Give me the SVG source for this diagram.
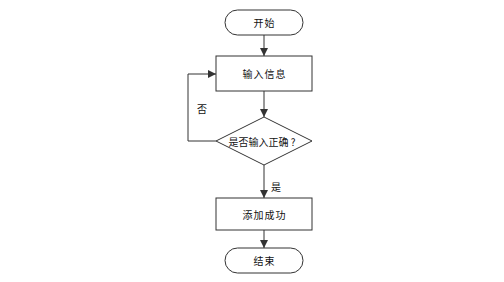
<svg xmlns="http://www.w3.org/2000/svg" width="504" height="282" viewBox="0 0 504 282">
<style>
.shape{fill:#fff;stroke:#333;stroke-width:1}
.line{fill:none;stroke:#333;stroke-width:1}
text{font-family:"Noto Sans CJK SC","Liberation Sans",sans-serif;font-size:10px;fill:#111;text-anchor:middle;dominant-baseline:central}
.sp{letter-spacing:1px}
</style>
<defs>
<marker id="arr" viewBox="0 0 10 10" refX="10" refY="5" markerWidth="8" markerHeight="8" markerUnits="userSpaceOnUse" orient="auto">
<path d="M0,0 L10,5 L0,10 z" fill="#333"/>
</marker>
</defs>
<rect width="504" height="282" fill="#fff"/>
<g id="connectors">
<line class="line" x1="264" y1="35" x2="264" y2="56" marker-end="url(#arr)"/>
<line class="line" x1="264" y1="91" x2="264" y2="117" marker-end="url(#arr)"/>
<polyline class="line" points="216,141 188,141 188,74 216,74" marker-end="url(#arr)"/>
<line class="line" x1="264" y1="165" x2="264" y2="198" marker-end="url(#arr)"/>
<line class="line" x1="264" y1="230" x2="264" y2="248" marker-end="url(#arr)"/>
<text x="202" y="108">否</text>
<text x="276" y="186">是</text>
</g>
<g id="start">
<rect class="shape" x="225" y="10" width="78" height="25" rx="12.5"/>
<text class="sp" x="264.5" y="22.5">开始</text>
</g>
<g id="input">
<rect class="shape" x="216" y="56" width="96" height="35"/>
<text class="sp" x="264.5" y="73.5">输入信息</text>
</g>
<g id="check">
<polygon class="shape" points="264,117 312,141 264,165 216,141"/>
<text x="262" y="141">是否输入正确 ?</text>
</g>
<g id="success">
<rect class="shape" x="216" y="198" width="96" height="32"/>
<text class="sp" x="264.5" y="214">添加成功</text>
</g>
<g id="end">
<rect class="shape" x="225" y="248" width="78" height="25" rx="12.5"/>
<text class="sp" x="264.5" y="260.5">结束</text>
</g>
</svg>
